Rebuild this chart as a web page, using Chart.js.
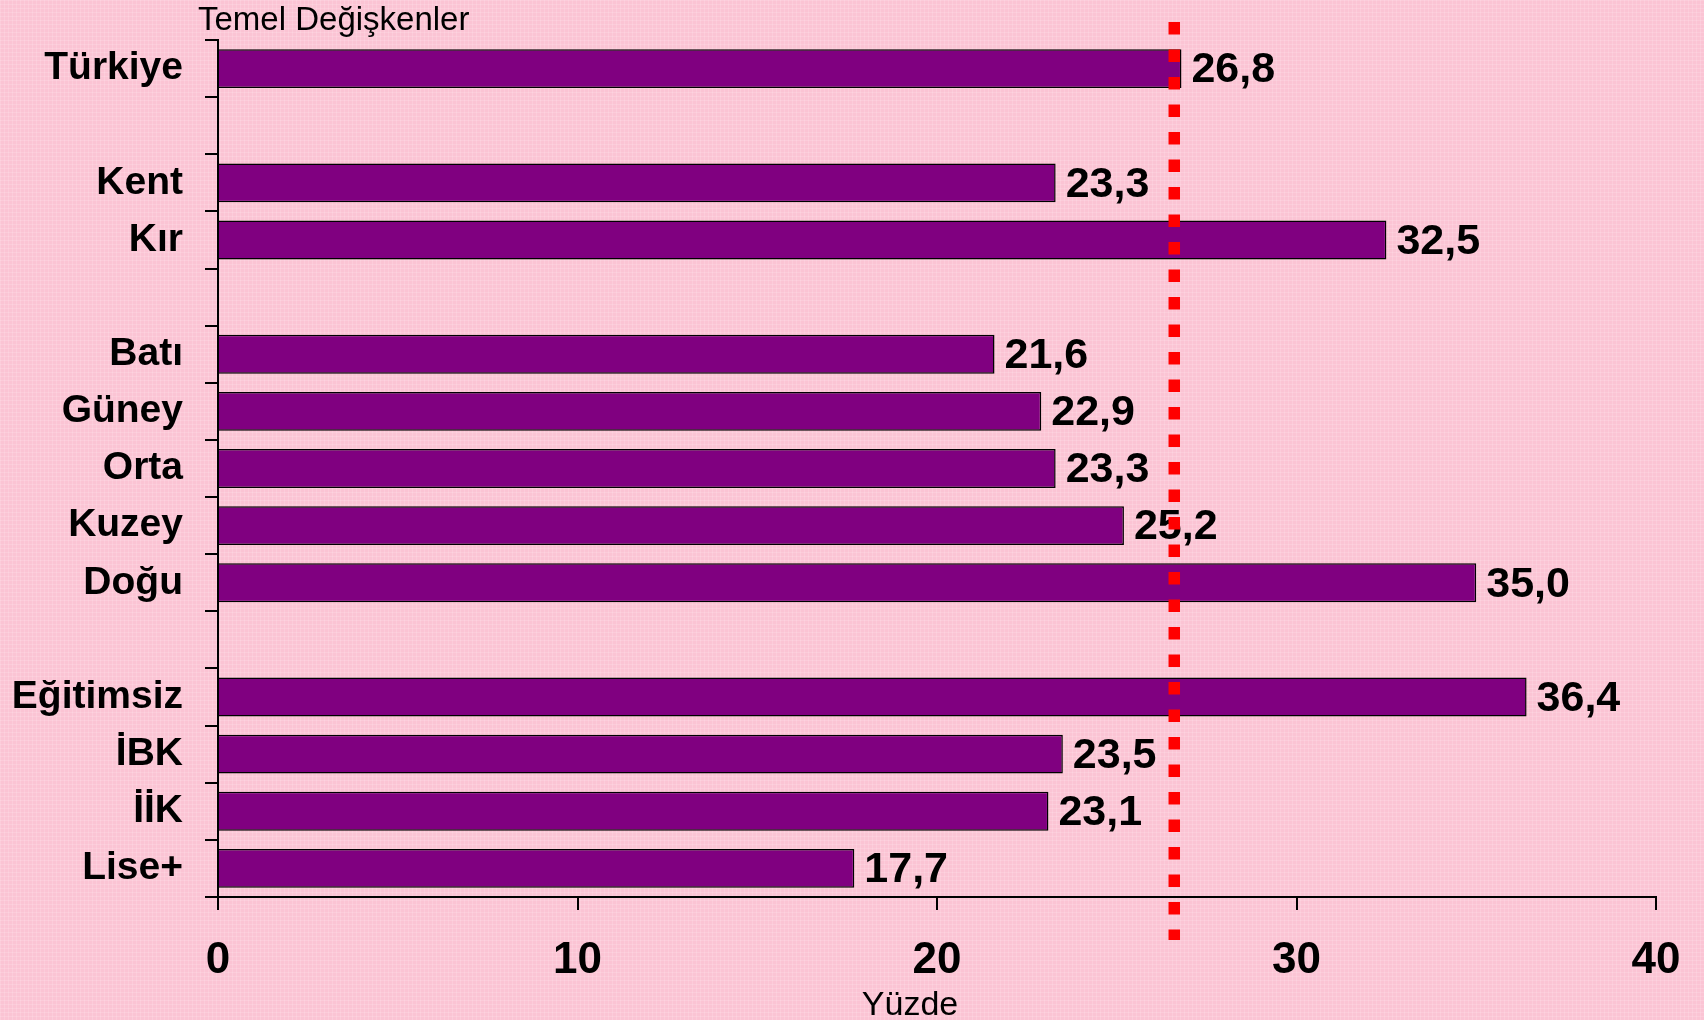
<!DOCTYPE html>
<html lang="tr">
<head>
<meta charset="utf-8">
<title>Temel Değişkenler</title>
<script src="https://cdn.jsdelivr.net/npm/chart.js@4.4.1/dist/chart.umd.min.js"></script>
<style>
  html, body { margin: 0; padding: 0; }
  body {
    background-color: #fbc4d4;
    background-image:
      linear-gradient(rgba(255, 255, 255, 0.13) 1px, transparent 1px),
      linear-gradient(90deg, rgba(255, 255, 255, 0.13) 1px, transparent 1px);
    background-size: 4px 4px;
  }
  #chart { display: block; }
</style>
</head>
<body>
<canvas id="chart" width="1704" height="1020"></canvas>
<script>
// empty strings are the gaps between the groups
const categories = ['Türkiye', '', 'Kent', 'Kır', '', 'Batı', 'Güney', 'Orta', 'Kuzey', 'Doğu', '', 'Eğitimsiz', 'İBK', 'İİK', 'Lise+'];
const values = [26.8, null, 23.3, 32.5, null, 21.6, 22.9, 23.3, 25.2, 35.0, null, 36.4, 23.5, 23.1, 17.7];
const xTicks = [0, 10, 20, 30, 40];
const referenceValue = 26.6;
const groupTitle = 'Temel Değişkenler';
const axisTitle = 'Yüzde';

const fontFamily = '"Liberation Sans", Arial, sans-serif';

function fmt(v) {
  return v.toFixed(1).replace('.', ',');
}

const barLabels = {
  id: 'barLabels',
  afterDatasetsDraw(chart) {
    const { ctx, chartArea } = chart;
    const meta = chart.getDatasetMeta(0);
    ctx.save();
    ctx.font = `bold 43px ${fontFamily}`;
    ctx.fillStyle = '#000';
    ctx.textAlign = 'left';
    ctx.textBaseline = 'middle';
    meta.data.forEach((bar, i) => {
      if (values[i] == null) return;
      ctx.fillText(fmt(values[i]), bar.x + 10, bar.y + 2);
    });

    // dotted red reference line, runs past the plot area
    const x = chart.scales.x.getPixelForValue(referenceValue);
    ctx.strokeStyle = '#ff0000';
    ctx.lineWidth = 11.5;
    ctx.setLineDash([12.5, 15]);
    ctx.beginPath();
    ctx.moveTo(x, chartArea.top - 18);
    ctx.lineTo(x, chartArea.bottom + 43);
    ctx.stroke();
    ctx.setLineDash([]);

    // titles sit a little off the axis centre in the original
    ctx.font = `33px ${fontFamily}`;
    ctx.textBaseline = 'alphabetic';
    ctx.fillText(groupTitle, chartArea.left - 20, 30);
    ctx.font = `34px ${fontFamily}`;
    ctx.textAlign = 'center';
    ctx.fillText(axisTitle, (chartArea.left + chartArea.right) / 2 - 27, 1015);
    ctx.restore();
  },
};

const config = {
  type: 'bar',
  data: {
    labels: categories,
    datasets: [{
      data: values,
      backgroundColor: '#800080',
      borderColor: '#000',
      borderWidth: 1.5,
      barPercentage: 0.68,
      categoryPercentage: 1,
    }],
  },
  options: {
    indexAxis: 'y',
    responsive: false,
    animation: false,
    layout: { padding: { top: 40, right: 48, left: 0, bottom: 0 } },
    plugins: {
      legend: { display: false },
      tooltip: { enabled: false },
    },
    scales: {
      x: {
        min: xTicks[0],
        max: xTicks[xTicks.length - 1],
        afterBuildTicks: (scale) => { scale.ticks = xTicks.map((v) => ({ value: v })); },
        afterFit: (scale) => {
          scale.height = 123;
          scale.paddingLeft = 0;
          scale.paddingRight = 0;
        },
        grid: { drawOnChartArea: false, color: '#000', lineWidth: 2, tickLength: 13 },
        border: { color: '#000', width: 2 },
        ticks: {
          color: '#000',
          padding: 24,
          font: { family: fontFamily, size: 44, weight: 'bold' },
        },
      },
      y: {
        afterFit: (scale) => {
          scale.width = 218;
          scale.paddingTop = 0;
          scale.paddingBottom = 0;
        },
        grid: { offset: true, drawOnChartArea: false, color: '#000', lineWidth: 2, tickLength: 13 },
        border: { color: '#000', width: 2 },
        ticks: {
          autoSkip: false,
          color: '#000',
          padding: 22,
          font: { family: fontFamily, size: 39, weight: 'bold' },
        },
      },
    },
  },
  plugins: [barLabels],
};

new Chart(document.getElementById('chart'), config);
</script>
</body>
</html>
